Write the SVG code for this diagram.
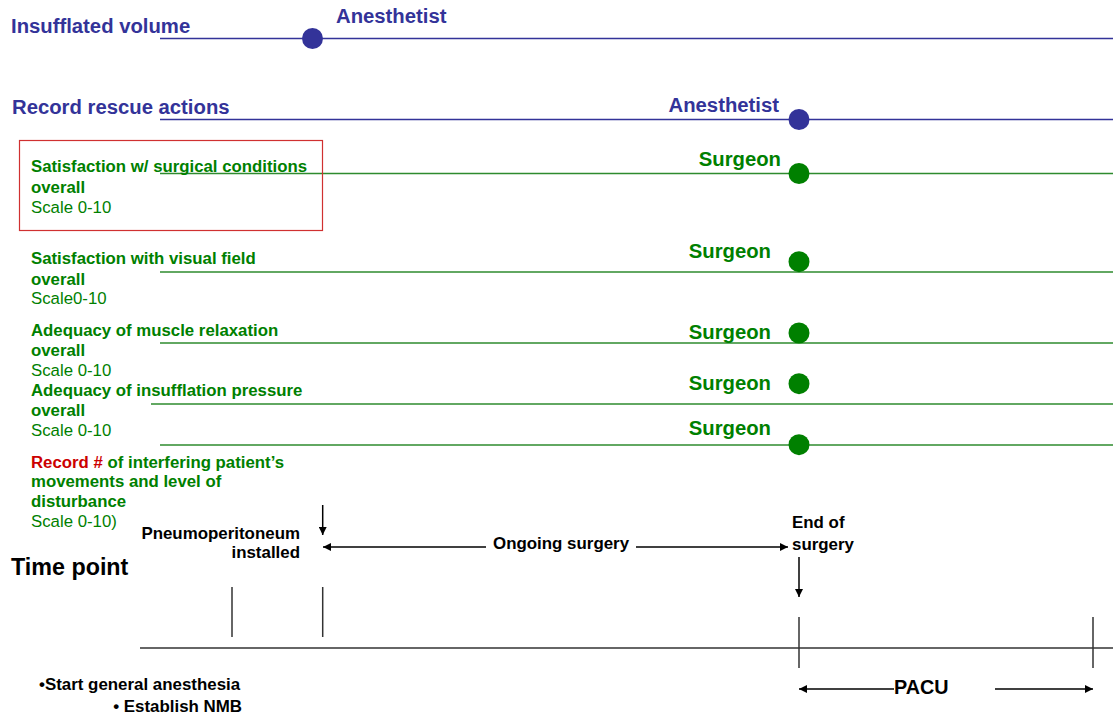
<svg xmlns="http://www.w3.org/2000/svg" width="1113" height="717" viewBox="0 0 1113 717">
<defs>
<marker id="ah" viewBox="0 0 10 10" refX="10" refY="5" markerWidth="8" markerHeight="8" markerUnits="userSpaceOnUse" orient="auto"><path d="M0,0 L10,5 L0,10 z" fill="#000"/></marker>
<style>
text{font-family:"Liberation Sans",Arial,sans-serif}
.bl{fill:#333399;font-weight:bold;font-size:20.3px}
.gb{fill:#008000;font-weight:bold;font-size:16.8px}
.gn{fill:#008000;font-size:16.8px}
.rd{fill:#cc0000}
.k{fill:#000;font-weight:bold;font-size:16.9px}
.bline{stroke:#333399;stroke-width:1.5}
.gline{stroke:#2e8b2e;stroke-width:1.5}
.ax{stroke:#333;stroke-width:1.5}
.arr{stroke:#000;stroke-width:1.5;marker-end:url(#ah)}
</style>
</defs>
<rect x="0" y="0" width="1113" height="717" fill="#fff"/>
<g id="connectors">
<line class="bline" x1="160" y1="38.5" x2="1113" y2="38.5"/>
<line class="bline" x1="160" y1="119.5" x2="1113" y2="119.5"/>
<line class="gline" x1="160" y1="173.5" x2="1113" y2="173.5"/>
<line class="gline" x1="160" y1="272" x2="1113" y2="272"/>
<line class="gline" x1="160" y1="343" x2="1113" y2="343"/>
<line class="gline" x1="151" y1="404" x2="1113" y2="404"/>
<line class="gline" x1="160" y1="445" x2="1113" y2="445"/>
<line class="ax" x1="140" y1="648" x2="1113" y2="648"/>
<line class="ax" x1="232" y1="587" x2="232" y2="637"/>
<line class="ax" x1="322.7" y1="587" x2="322.7" y2="637"/>
<line class="ax" x1="799" y1="617" x2="799" y2="668"/>
<line class="ax" x1="1093" y1="617" x2="1093" y2="668"/>
<line class="arr" x1="322.7" y1="505" x2="322.7" y2="535"/>
<line class="arr" x1="486" y1="547" x2="323" y2="547"/>
<line class="arr" x1="636" y1="547" x2="788" y2="547"/>
<line class="arr" x1="799" y1="557" x2="799" y2="597"/>
<line class="arr" x1="894" y1="689" x2="799" y2="689"/>
<line class="arr" x1="995" y1="689" x2="1093" y2="689"/>
</g>
<g id="insufflated">
<text class="bl" x="11" y="33">Insufflated volume</text>
<circle cx="312.5" cy="38.5" r="10.5" fill="#333399"/>
<text class="bl" x="336" y="23">Anesthetist</text>
</g>
<g id="rescue">
<text class="bl" x="12" y="114">Record rescue actions</text>
<circle cx="799" cy="119.5" r="10.5" fill="#333399"/>
<text class="bl" x="779" y="112" text-anchor="end">Anesthetist</text>
</g>
<g id="surgical">
<rect x="19.5" y="140.5" width="303" height="90" fill="none" stroke="#d03030" stroke-width="1.2"/>
<text class="gb" x="31" y="172">Satisfaction w/ surgical conditions</text>
<text class="gb" x="31" y="193">overall</text>
<text class="gn" x="31" y="213">Scale 0-10</text>
<circle cx="799" cy="173.5" r="10.5" fill="#008000"/>
<text class="bl" x="781" y="166" text-anchor="end" style="fill:#008000">Surgeon</text>
</g>
<g id="visual">
<text class="gb" x="31" y="264">Satisfaction with visual field</text>
<text class="gb" x="31" y="285">overall</text>
<text class="gn" x="31" y="304">Scale0-10</text>
<circle cx="799" cy="261.7" r="10.5" fill="#008000"/>
<text class="bl" x="771" y="258" text-anchor="end" style="fill:#008000">Surgeon</text>
</g>
<g id="muscle">
<text class="gb" x="31" y="336">Adequacy of muscle relaxation</text>
<text class="gb" x="31" y="356">overall</text>
<text class="gn" x="31" y="376">Scale 0-10</text>
<circle cx="799" cy="333" r="10.5" fill="#008000"/>
<text class="bl" x="771" y="339" text-anchor="end" style="fill:#008000">Surgeon</text>
</g>
<g id="pressure">
<text class="gb" x="31" y="396">Adequacy of insufflation pressure</text>
<text class="gb" x="31" y="416">overall</text>
<text class="gn" x="31" y="436">Scale 0-10</text>
<circle cx="799" cy="383.7" r="10.5" fill="#008000"/>
<text class="bl" x="771" y="390" text-anchor="end" style="fill:#008000">Surgeon</text>
</g>
<g id="movements">
<text class="gb" x="31" y="468"><tspan class="rd">Record #</tspan> of interfering patient’s</text>
<text class="gb" x="31" y="487">movements and level of</text>
<text class="gb" x="31" y="507">disturbance</text>
<text class="gn" x="31" y="527">Scale 0-10)</text>
<circle cx="799" cy="444.7" r="10.5" fill="#008000"/>
<text class="bl" x="771" y="435" text-anchor="end" style="fill:#008000">Surgeon</text>
</g>
<g id="timeline">
<text x="11" y="575" style="font-weight:bold;font-size:23.3px;fill:#000">Time point</text>
<text class="k" x="300" y="539" text-anchor="end">Pneumoperitoneum</text>
<text class="k" x="300" y="558" text-anchor="end">installed</text>
<text class="k" x="493" y="549">Ongoing surgery</text>
<text class="k" x="792" y="528">End of</text>
<text class="k" x="792" y="550">surgery</text>
<text x="894" y="694" style="font-weight:bold;font-size:19.8px;fill:#000">PACU</text>
<text class="k" x="39" y="690">•Start general anesthesia</text>
<text class="k" x="242" y="712" text-anchor="end">• Establish NMB</text>
</g>
</svg>
